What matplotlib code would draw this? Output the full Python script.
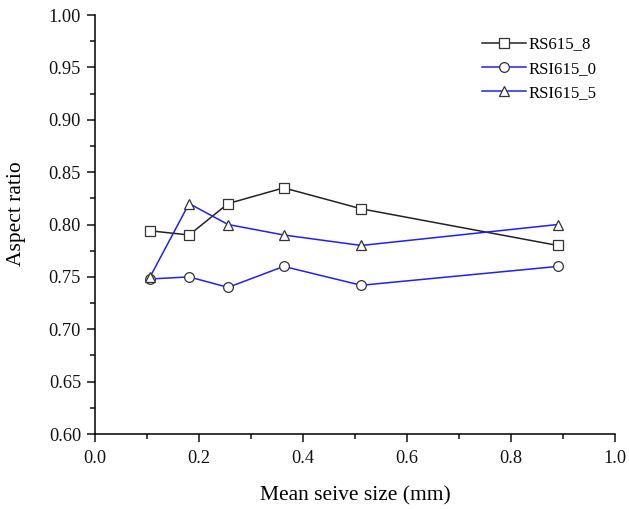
import matplotlib.pyplot as plt
from matplotlib.ticker import MultipleLocator

plt.rcParams["font.family"] = ["Liberation Serif", "DejaVu Serif"]

sieve_size = [0.106, 0.181, 0.256, 0.363, 0.512, 0.890]
rs615_8 = [0.794, 0.790, 0.820, 0.835, 0.815, 0.780]
rsi615_0 = [0.748, 0.750, 0.740, 0.760, 0.742, 0.760]
rsi615_5 = [0.750, 0.820, 0.800, 0.790, 0.780, 0.800]

fig = plt.figure(figsize=(6.29, 5.09), dpi=100)
ax = fig.add_axes([0.151, 0.1473, 0.8267, 0.8232])

marker_style = dict(markersize=7, markerfacecolor="white", markeredgecolor="#333333", markeredgewidth=0.9)
ax.plot(sieve_size, rs615_8, color="#222222", lw=1.1, marker="s", label="RS615_8", **marker_style)
ax.plot(sieve_size, rsi615_0, color="#2020f0", lw=1.1, marker="o", label="RSI615_0", **marker_style)
ax.plot(sieve_size, rsi615_5, color="#2020f0", lw=1.1, marker="^", label="RSI615_5", **marker_style)

ax.set_xlim(0.0, 1.0)
ax.set_ylim(0.60, 1.00)
ax.xaxis.set_major_locator(MultipleLocator(0.2))
ax.xaxis.set_minor_locator(MultipleLocator(0.1))
ax.yaxis.set_major_locator(MultipleLocator(0.05))
ax.yaxis.set_minor_locator(MultipleLocator(0.025))
ax.tick_params(which="both", direction="out", labelsize=13.2, width=1.1, colors="#111111")
ax.tick_params(which="major", length=6, pad=4)
ax.tick_params(axis="x", which="major", pad=5.5)
ax.tick_params(which="minor", length=3.5)
ax.spines["top"].set_visible(False)
ax.spines["right"].set_visible(False)
for side in ("left", "bottom"):
    ax.spines[side].set_linewidth(1.1)

ax.set_xlabel("Mean seive size (mm)", fontsize=15.5)
ax.xaxis.set_label_coords(0.5, -0.124)
ax.set_ylabel("Aspect ratio", fontsize=15.5)
ax.yaxis.set_label_coords(-0.133, 0.525)
ax.legend(loc="upper left", bbox_to_anchor=(0.744, 0.949), frameon=False, fontsize=12.1,
          borderaxespad=0, borderpad=0, handlelength=2.6, handletextpad=0.2, labelspacing=0.5)

fig.savefig("out.png", dpi=100)
